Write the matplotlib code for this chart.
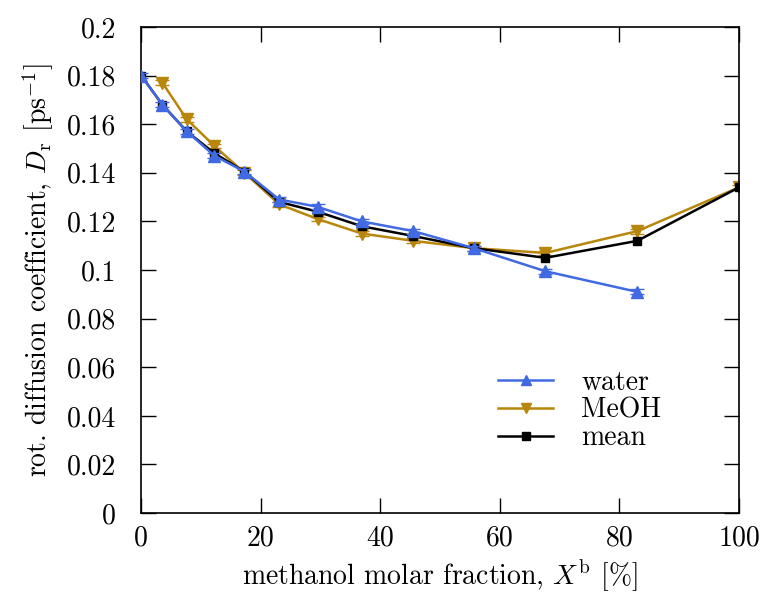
import numpy as np
import matplotlib.pyplot as plt
from matplotlib.lines import Line2D
from matplotlib.ticker import FuncFormatter, MultipleLocator

plt.rcParams['font.family'] = 'serif'
plt.rcParams['font.serif'] = ['cmr10', 'DejaVu Serif']
plt.rcParams['mathtext.fontset'] = 'cm'
plt.rcParams['axes.formatter.use_mathtext'] = True

# dados
x_water = [0, 3.56, 7.64, 12.26, 17.27, 23.1, 29.5, 36.9, 45.5, 55.6, 67.6, 83.0]
d_water = [0.180, 0.168, 0.157, 0.147, 0.1405, 0.129, 0.126, 0.120, 0.116, 0.109, 0.0995, 0.091]
e_water = [0.001] * len(x_water)

x_meoh = [3.56, 7.64, 12.26, 17.27, 23.1, 29.5, 36.9, 45.5, 55.6, 67.6, 83.0, 100]
d_meoh = [0.177, 0.162, 0.151, 0.140, 0.127, 0.121, 0.115, 0.112, 0.109, 0.107, 0.116, 0.134]
e_meoh = [0.001] * len(x_meoh)

x_mean = [0, 3.56, 7.64, 12.26, 17.27, 23.1, 29.5, 36.9, 45.5, 55.6, 67.6, 83.0, 100]
d_mean = [0.180, 0.168, 0.157, 0.148, 0.1405, 0.128, 0.124, 0.118, 0.114, 0.109, 0.105, 0.112, 0.134]

blue = '#4169e1'
gold = '#b8860b'
fs = 20

fig = plt.figure(figsize=(7.67, 5.98), dpi=100)
ax = fig.add_axes([0.184, 0.142, 0.7795, 0.813])

ax.plot(x_mean, d_mean, color='black', lw=1.8, marker='s', ms=6, zorder=3)
ax.errorbar(x_meoh, d_meoh, yerr=e_meoh, color=gold, lw=1.8, marker='v', ms=8.5,
            capsize=5, elinewidth=1.0, capthick=1.0, zorder=2)
ax.errorbar(x_water, d_water, yerr=e_water, color=blue, lw=1.8, marker='^', ms=8.5,
            capsize=5, elinewidth=1.0, capthick=1.0, zorder=4)

ax.set_xlim(0, 100)
ax.set_ylim(0, 0.2)
ax.xaxis.set_major_locator(MultipleLocator(20))
ax.yaxis.set_major_locator(MultipleLocator(0.02))
ax.yaxis.set_major_formatter(FuncFormatter(lambda v, p: '%g' % round(v, 4)))
ax.xaxis.set_major_formatter(FuncFormatter(lambda v, p: '%g' % v))
ax.tick_params(direction='in', length=11, width=1, top=True, right=True,
               labelsize=fs)
ax.tick_params(axis='y', pad=18)
ax.tick_params(axis='x', pad=9)
for s in ax.spines.values():
    s.set_linewidth(1.2)

ax.set_xlabel(r'methanol molar fraction, $X^{\mathrm{b}}$ [%]', fontsize=fs, labelpad=4)
ax.set_ylabel(r'rot. diffusion coefficient, $D_{\mathrm{r}}$ [ps$^{-1}$]',
              fontsize=fs, labelpad=8)

handles = [Line2D([], [], color=blue, lw=1.8, marker='^', ms=7),
           Line2D([], [], color=gold, lw=1.8, marker='v', ms=7),
           Line2D([], [], color='black', lw=1.8, marker='s', ms=5.5)]
ax.legend(handles, ['water', 'MeOH', 'mean'], loc='upper left',
          bbox_to_anchor=(0.578, 0.318), frameon=False, fontsize=fs,
          handlelength=2.0, labelspacing=0.05, handletextpad=1.0,
          borderaxespad=0)

plt.savefig('out.png', dpi=100)
